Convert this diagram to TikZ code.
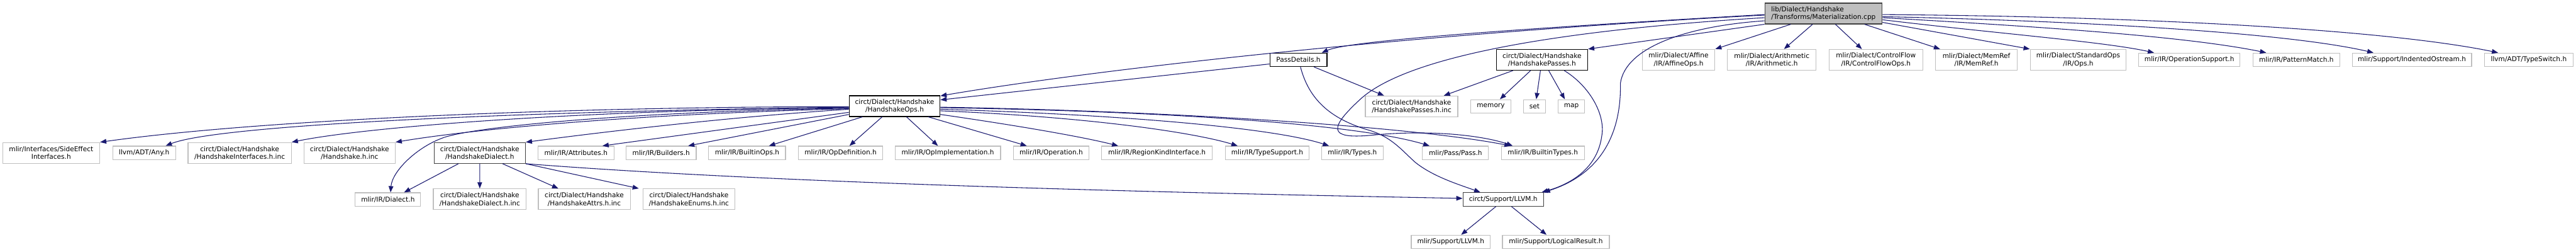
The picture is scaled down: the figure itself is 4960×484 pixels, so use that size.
\documentclass[tikz,border=0pt]{standalone}
\usepackage{fontspec}
\setmainfont{DejaVu Sans}
\usetikzlibrary{arrows.meta}
\definecolor{leafgray}{HTML}{BFBFBF}
\definecolor{darkgray}{HTML}{404040}
\definecolor{edgeblue}{HTML}{191970}
\newcommand\nodefont{\fontsize{12.8}{15}\selectfont}
\tikzset{
  box/.style={rectangle, inner sep=0pt, font=\nodefont, align=center, text=black, line width=1.4pt},
  leaf/.style={box, draw=leafgray, fill=white},
  inner/.style={box, draw=black, fill=white},
  rootbox/.style={box, draw=darkgray, fill=leafgray, align=left},
  lone/.style={minimum height=26pt},
  two/.style={minimum height=40pt},
  edge/.style={draw=edgeblue, line width=1.3pt, -{Triangle[length=12pt,width=9pt]}},
}
\begin{document}
\begin{tikzpicture}[x=1pt,y=-1pt]
\useasboundingbox (0,0) rectangle (4960,484);
% row 0
\node[rootbox, two, minimum width=226pt] (root) at (3511,26) {lib/Dialect/Handshake\\/Transforms/Materialization.cpp};
% row 1
\node[inner, lone, minimum width=110pt] (pd) at (2500,115) {PassDetails.h};
\node[inner, two, minimum width=176pt] (hp) at (2969,115) {circt/Dialect/Handshake\\/HandshakePasses.h};
\node[leaf, two, minimum width=140pt] (aff) at (3232,115) {mlir/Dialect/Affine\\/IR/AffineOps.h};
\node[leaf, two, minimum width=171pt] (ari) at (3411.5,115) {mlir/Dialect/Arithmetic\\/IR/Arithmetic.h};
\node[leaf, two, minimum width=180pt] (cf) at (3612,115) {mlir/Dialect/ControlFlow\\/IR/ControlFlowOps.h};
\node[leaf, two, minimum width=157pt] (mr) at (3805.5,115) {mlir/Dialect/MemRef\\/IR/MemRef.h};
\node[leaf, two, minimum width=185pt] (std) at (4001.5,115) {mlir/Dialect/StandardOps\\/IR/Ops.h};
\node[leaf, lone, minimum width=195pt] (os) at (4215.5,115) {mlir/IR/OperationSupport.h};
\node[leaf, lone, minimum width=167pt] (pm) at (4421.5,115) {mlir/IR/PatternMatch.h};
\node[leaf, lone, minimum width=230pt] (io) at (4644,115) {mlir/Support/IndentedOstream.h};
\node[leaf, lone, minimum width=170pt] (ts) at (4869,115) {llvm/ADT/TypeSwitch.h};
% row 2
\node[inner, two, minimum width=175pt] (ops) at (1722.5,204) {circt/Dialect/Handshake\\/HandshakeOps.h};
\node[leaf, two, minimum width=178pt] (hpinc) at (2718,204.5) {circt/Dialect/Handshake\\/HandshakePasses.h.inc};
\node[leaf, lone, minimum width=77pt] (mem) at (2870.5,204.5) {memory};
\node[leaf, lone, minimum width=43pt] (set) at (2954.5,204.5) {set};
\node[leaf, lone, minimum width=51pt] (map) at (3025.5,204.5) {map};
% row 3
\node[leaf, two, minimum width=187pt] (se) at (98.5,294) {mlir/Interfaces/SideEffect\\Interfaces.h};
\node[leaf, lone, minimum width=121pt] (any) at (277.5,294) {llvm/ADT/Any.h};
\node[leaf, two, minimum width=199pt] (hiinc) at (461.5,294) {circt/Dialect/Handshake\\/HandshakeInterfaces.h.inc};
\node[leaf, two, minimum width=176pt] (hinc) at (673,294) {circt/Dialect/Handshake\\/Handshake.h.inc};
\node[box, draw=darkgray, fill=white, two, minimum width=176pt] (hd) at (923.7,294) {circt/Dialect/Handshake\\/HandshakeDialect.h};
\node[leaf, lone, minimum width=146pt] (attr) at (1109,294) {mlir/IR/Attributes.h};
\node[leaf, lone, minimum width=135pt] (bld) at (1273,294) {mlir/IR/Builders.h};
\node[leaf, lone, minimum width=148pt] (bops) at (1438.5,294) {mlir/IR/BuiltinOps.h};
\node[leaf, lone, minimum width=163pt] (opdef) at (1618.5,294) {mlir/IR/OpDefinition.h};
\node[leaf, lone, minimum width=203pt] (opimpl) at (1825,294) {mlir/IR/OpImplementation.h};
\node[leaf, lone, minimum width=145pt] (op) at (2024,294) {mlir/IR/Operation.h};
\node[leaf, lone, minimum width=213pt] (rki) at (2227.5,294) {mlir/IR/RegionKindInterface.h};
\node[leaf, lone, minimum width=162pt] (tsup) at (2440,294) {mlir/IR/TypeSupport.h};
\node[leaf, lone, minimum width=119pt] (types) at (2604,294) {mlir/IR/Types.h};
\node[leaf, lone, minimum width=127pt] (pass) at (2802.5,294) {mlir/Pass/Pass.h};
\node[leaf, lone, minimum width=160pt] (btypes) at (2970.7,294) {mlir/IR/BuiltinTypes.h};
% row 4
\node[leaf, lone, minimum width=126pt] (dial) at (747,383.5) {mlir/IR/Dialect.h};
\node[leaf, two, minimum width=179pt] (hdinc) at (923.8,383) {circt/Dialect/Handshake\\/HandshakeDialect.h.inc};
\node[leaf, two, minimum width=177pt] (hainc) at (1125,383) {circt/Dialect/Handshake\\/HandshakeAttrs.h.inc};
\node[leaf, two, minimum width=177pt] (heinc) at (1326.5,383) {circt/Dialect/Handshake\\/HandshakeEnums.h.inc};
\node[box, draw=darkgray, fill=white, lone, minimum width=155pt] (llvm) at (2894.3,383.3) {circt/Support/LLVM.h};
% row 5
\node[leaf, lone, minimum width=152pt] (mllvm) at (2793.3,465) {mlir/Support/LLVM.h};
\node[leaf, lone, minimum width=206pt] (lr) at (2995.8,465) {mlir/Support/LogicalResult.h};

% edges from root
\draw[edge] ([yshift=-2pt]root.west) .. controls (2800,62) and (2590,82) .. ([xshift=45pt]pd.north);
\draw[edge] ([yshift=-3pt]root.west) .. controls (2700,66) and (2100,135) .. ([yshift=-1pt]ops.north east);
\draw[edge] (root.south west) -- (hp.north east);
\draw[edge] ([yshift=-8pt]root.west) .. controls (3050,55) and (2720,100) .. (2620,190)
  .. controls (2560,245) and (2555,268) .. (2640,260)
  .. controls (2760,248) and (2860,262) .. ([xshift=-58pt]btypes.north);
\draw[edge] ([yshift=-14pt]root.west) .. controls (3250,50) and (3130,90) .. (3120,160)
  .. controls (3122,260) and (3080,335) .. (llvm.north east);
\draw[edge] ([xshift=-63pt]root.south) -- (aff.north east);
\draw[edge] ([xshift=-21pt]root.south) -- ([xshift=23.5pt]ari.north);
\draw[edge] ([xshift=23pt]root.south) -- ([xshift=-27pt]cf.north);
\draw[edge] ([xshift=79pt]root.south) -- ([xshift=-70pt]mr.north);
\draw[edge] ([yshift=-17pt]root.east) -- (std.north west);
\draw[edge] ([yshift=-12pt]root.east) .. controls (3850,65) and (4050,80) .. ([xshift=-68pt]os.north);
\draw[edge] ([yshift=-8pt]root.east) .. controls (3900,50) and (4200,68) .. ([xshift=-58pt]pm.north);
\draw[edge] ([yshift=-6pt]root.east) .. controls (4000,40) and (4400,62) .. ([xshift=-74pt]io.north);
\draw[edge] ([yshift=-2pt]root.east) .. controls (4150,32) and (4600,58) .. ([xshift=-59pt]ts.north);

% edges from PassDetails.h
\draw[edge] ([yshift=-8pt]pd.west) -- ([yshift=12pt]ops.east);
\draw[edge] ([xshift=30pt]pd.south) -- ([xshift=-53pt]hpinc.north);
\draw[edge] ([xshift=4pt]pd.south) .. controls (2520,190) and (2560,228) .. (2635,250)
  .. controls (2680,263) and (2700,290) .. (2725,312)
  .. controls (2760,340) and (2810,355) .. ([xshift=-44pt]llvm.north);

% edges from HandshakePasses.h
\draw[edge] ([xshift=-56pt]hp.south) -- ([xshift=62pt]hpinc.north);
\draw[edge] ([xshift=-22pt]hp.south) -- ([xshift=17.5pt]mem.north);
\draw[edge] ([xshift=-3pt]hp.south) -- ([xshift=3.5pt]set.north);
\draw[edge] ([xshift=13pt]hp.south) -- ([xshift=-12.5pt]map.north);
\draw[edge] ([xshift=43pt]hp.south) .. controls (3060,165) and (3092,220) .. (3084,262)
  .. controls (3076,320) and (3030,352) .. ([xshift=-4pt]llvm.north east);

% edges from HandshakeOps.h
\draw[edge] ([yshift=-1pt]ops.west) .. controls (1100,205) and (500,230) .. (se.north east);
\draw[edge] ([yshift=-2pt]ops.west) .. controls (1000,214) and (420,240) .. ([xshift=41.5pt]any.north);
\draw[edge] ([yshift=-3pt]ops.west) .. controls (1100,212) and (700,245) .. (hiinc.north east);
\draw[edge] ([yshift=-4pt]ops.west) .. controls (1200,215) and (900,245) .. (850,266)
  .. controls (800,285) and (755,330) .. ([xshift=5pt]dial.north);
\draw[edge] ([yshift=-5pt]ops.west) .. controls (1200,220) and (900,250) .. (hinc.north east);
\draw[edge] ([yshift=-6pt]ops.west) .. controls (1400,225) and (1150,255) .. (hd.north east);
\draw[edge] ([yshift=-12pt]ops.west) -- ([xshift=51pt]attr.north);
\draw[edge] ([yshift=-16pt]ops.west) -- ([xshift=52pt]bld.north);
\draw[edge] ([xshift=-62pt]ops.south) -- ([xshift=42pt]bops.north);
\draw[edge] ([xshift=-24pt]ops.south) -- ([xshift=17pt]opdef.north);
\draw[edge] ([xshift=23pt]ops.south) -- ([xshift=-19pt]opimpl.north);
\draw[edge] ([xshift=65pt]ops.south) -- ([xshift=-47pt]op.north);
\draw[edge] ([yshift=-16pt]ops.east) .. controls (1950,240) and (2080,262) .. ([xshift=-74.5pt]rki.north);
\draw[edge] ([yshift=-9pt]ops.east) .. controls (2100,225) and (2300,255) .. ([xshift=-57pt]tsup.north);
\draw[edge] ([yshift=-6pt]ops.east) .. controls (2150,220) and (2450,245) .. ([xshift=-45pt]types.north);
\draw[edge] ([yshift=-3pt]ops.east) .. controls (2200,213) and (2600,235) .. ([xshift=-50pt]pass.north);
\draw[edge] ([yshift=-2pt]ops.east) .. controls (2200,212) and (2700,240) .. ([xshift=-62pt]btypes.north);

% edges from HandshakeDialect.h
\draw[edge] ([xshift=-41pt]hd.south) -- ([xshift=31pt]dial.north);
\draw[edge] (hd.south) -- (hdinc.north);
\draw[edge] ([xshift=44pt]hd.south) -- ([xshift=-50pt]hainc.north);
\draw[edge] (hd.south east) -- ([xshift=-96.5pt]heinc.north);
\draw[edge] (hd.south east) .. controls (1400,345) and (2000,366) .. ([yshift=2pt]llvm.west);

% edges from circt/Support/LLVM.h
\draw[edge] ([xshift=-14pt]llvm.south) -- ([xshift=20pt]mllvm.north);
\draw[edge] ([xshift=16pt]llvm.south) -- ([xshift=-18pt]lr.north);
\end{tikzpicture}
\end{document}
